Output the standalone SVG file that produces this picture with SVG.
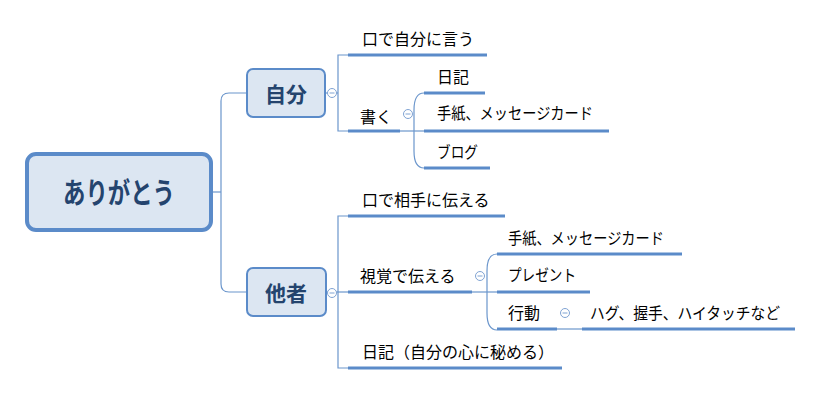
<svg xmlns="http://www.w3.org/2000/svg" width="826" height="397" viewBox="0 0 826 397">
<defs>
<style>
.thin{fill:none;stroke:#6B96CC;stroke-width:1.2}
.ul{fill:none;stroke:#5B8BC9;stroke-width:3}
.t{font-family:"Noto Sans CJK JP","Liberation Sans",sans-serif;font-size:16px;fill:#000;dominant-baseline:central}
.main{font-family:"Noto Sans CJK JP","Liberation Sans",sans-serif;font-weight:bold;fill:#24446E;dominant-baseline:central;text-anchor:middle}
.c{fill:#fff;stroke:#7FA3D3;stroke-width:1}
.cm{stroke:#7FA3D3;stroke-width:1}
</style>
<g id="col">
<circle class="c" cx="0" cy="0" r="4.5"/>
<line class="cm" x1="-2.5" y1="0" x2="2.5" y2="0"/>
</g>
</defs>
<rect width="826" height="397" fill="#fff"/>
<g id="connectors">
<path class="thin" d="M213,192 H221"/>
<path class="thin" d="M247,93 H229 Q221,93 221,101 V284 Q221,292 229,292 H247"/>
<path class="thin" d="M325,93 H338"/>
<path class="thin" d="M348,55 H338 V131 H348"/>
<path class="thin" d="M400,131 H424"/>
<path class="thin" d="M424,93 Q414,93 414,110 V151 Q414,168 424,168"/>
<path class="thin" d="M326,292 H348"/>
<path class="thin" d="M348,216 H338 V368 H348"/>
<path class="thin" d="M472,292 H497"/>
<path class="thin" d="M497,254 Q487,254 487,271 V313 Q487,330 497,330"/>
<path class="thin" d="M557,329 H582"/>
</g>
<g id="n-arigatou">
<rect x="27" y="154" width="184" height="76" rx="9" fill="#DCE6F2" stroke="#5B8BC9" stroke-width="4"/>
<text class="main" x="119" y="191" font-size="29" textLength="112" lengthAdjust="spacingAndGlyphs">ありがとう</text>
</g>
<g id="n-jibun">
<rect x="247" y="69" width="78" height="48" rx="6" fill="#DCE6F2" stroke="#5B8BC9" stroke-width="2"/>
<text class="main" x="286" y="93" font-size="21">自分</text>
<use href="#col" x="332" y="93"/>
</g>
<g id="n-kuchi1">
<text class="t" x="362" y="38">口で自分に言う</text>
<line class="ul" x1="348" y1="55" x2="487" y2="55"/>
</g>
<g id="n-kaku">
<text class="t" x="360" y="116">書く</text>
<line class="ul" x1="348" y1="131" x2="400" y2="131"/>
<use href="#col" x="408" y="114"/>
</g>
<g id="n-nikki1">
<text class="t" x="437" y="76">日記</text>
<line class="ul" x1="424" y1="93" x2="485" y2="93"/>
</g>
<g id="n-tegami1">
<text class="t" x="437" y="112" textLength="156" lengthAdjust="spacingAndGlyphs">手紙、メッセージカード</text>
<line class="ul" x1="424" y1="131" x2="609" y2="131"/>
</g>
<g id="n-blog">
<text class="t" x="437" y="151" textLength="41" lengthAdjust="spacingAndGlyphs">ブログ</text>
<line class="ul" x1="424" y1="168" x2="490" y2="168"/>
</g>
<g id="n-tasha">
<rect x="247" y="268" width="79" height="48" rx="6" fill="#DCE6F2" stroke="#5B8BC9" stroke-width="2"/>
<text class="main" x="286" y="292" font-size="21">他者</text>
<use href="#col" x="332" y="293"/>
</g>
<g id="n-kuchi2">
<text class="t" x="362" y="199">口で相手に伝える</text>
<line class="ul" x1="348" y1="216" x2="505" y2="216"/>
</g>
<g id="n-shikaku">
<text class="t" x="360" y="275">視覚で伝える</text>
<line class="ul" x1="348" y1="292" x2="472" y2="292"/>
<use href="#col" x="480" y="276"/>
</g>
<g id="n-tegami2">
<text class="t" x="508" y="237" textLength="156" lengthAdjust="spacingAndGlyphs">手紙、メッセージカード</text>
<line class="ul" x1="497" y1="254" x2="682" y2="254"/>
</g>
<g id="n-present">
<text class="t" x="508" y="274" textLength="68" lengthAdjust="spacingAndGlyphs">プレゼント</text>
<line class="ul" x1="497" y1="292" x2="590" y2="292"/>
</g>
<g id="n-koudou">
<text class="t" x="508" y="312">行動</text>
<line class="ul" x1="497" y1="329" x2="557" y2="329"/>
<use href="#col" x="565" y="313"/>
</g>
<g id="n-hug">
<text class="t" x="590" y="312" textLength="190" lengthAdjust="spacingAndGlyphs">ハグ、握手、ハイタッチなど</text>
<line class="ul" x1="582" y1="329" x2="795" y2="329"/>
</g>
<g id="n-nikki2">
<text class="t" x="362" y="351">日記（自分の心に秘める）</text>
<line class="ul" x1="348" y1="368" x2="562" y2="368"/>
</g>
</svg>
